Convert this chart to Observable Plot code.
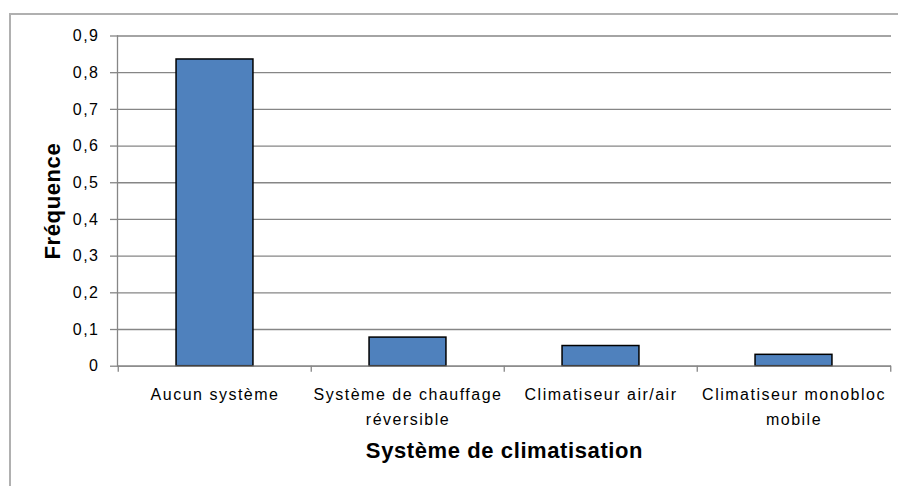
<!DOCTYPE html>
<html>
<head>
<meta charset="utf-8">
<script src="https://cdn.jsdelivr.net/npm/d3@7"></script>
<script src="https://cdn.jsdelivr.net/npm/@observablehq/plot@0.6"></script>
<style>
  html, body { margin: 0; padding: 0; background: #fff; }
  #wrap { position: relative; width: 898px; height: 486px; overflow: hidden; }
  #border { position: absolute; left: 9px; top: 13px; width: 1000px; height: 1000px;
            border-left: 2px solid #b0b0b0; border-top: 2px solid #b0b0b0; box-sizing: border-box; }
  #chart { position: absolute; left: 0; top: 0; }
</style>
</head>
<body>
<div id="wrap"><div id="border"></div><div id="chart"></div></div>
<script>
const categories = ["Aucun système", "Système de chauffage réversible", "Climatiseur air/air", "Climatiseur monobloc mobile"];
const tickLabels = ["Aucun système", "Système de chauffage\nréversible", "Climatiseur air/air", "Climatiseur monobloc\nmobile"];
const frequencies = [0.836, 0.078, 0.055, 0.031];
const yTicks = [0, 0.1, 0.2, 0.3, 0.4, 0.5, 0.6, 0.7, 0.8, 0.9];
const xTitle = "Système de climatisation";
const yTitle = "Fréquence";

const data = categories.map((c, i) => ({category: c, value: frequencies[i]}));
const labelOf = new Map(categories.map((c, i) => [c, tickLabels[i]]));

const W = 898, H = 486;
const mL = 117, mR = 7, mT = 35.5, mB = 120.3;
const step = (W - mL - mR) / categories.length;
const barInset = step * 0.3;
const font = "'Liberation Sans', Arial, sans-serif";
const gray = "#868686";

const chart = Plot.plot({
  width: W,
  height: H,
  marginLeft: mL,
  marginRight: mR,
  marginTop: mT,
  marginBottom: mB,
  style: {fontFamily: font, fontSize: "16px", color: "#000", background: "transparent", overflow: "visible", letterSpacing: "1.5px"},
  x: {domain: categories, padding: 0, axis: null},
  y: {domain: [0, 0.9], axis: null},
  marks: [
    Plot.gridY(yTicks, {stroke: gray, strokeOpacity: 1, strokeWidth: 1.3}),
    Plot.axisY(yTicks, {tickSize: 7, tickPadding: 11, stroke: gray, strokeWidth: 1.3,
      tickFormat: d => String(d).replace(".", ","), label: null, fontSize: 16, fill: "#000"}),
    Plot.frame({anchor: "left", stroke: gray, strokeWidth: 1.3}),
    Plot.barY(data, {x: "category", y: "value", fill: "#4F81BD", stroke: "#000", strokeWidth: 1.5,
      insetLeft: barInset, insetRight: barInset}),
    Plot.ruleY([0], {stroke: gray, strokeWidth: 1.3}),
    Plot.axisX(categories, {tickSize: 6, tickFormat: null, label: null, dx: -step / 2, stroke: gray, strokeWidth: 1.3}),
    Plot.axisX([categories[categories.length - 1]], {tickSize: 6, tickFormat: null, label: null, dx: step / 2, stroke: gray, strokeWidth: 1.3}),
    Plot.axisX(categories, {tickSize: 0, tickPadding: 16, tickFormat: d => labelOf.get(d), label: null,
      fontSize: 16, fill: "#000", lineHeight: 1.56}),
    Plot.text([xTitle], {frameAnchor: "bottom", lineAnchor: "middle", dy: 85, fontSize: 22, fontWeight: "bold", fill: "#000"}),
    Plot.text([yTitle], {frameAnchor: "left", textAnchor: "middle", lineAnchor: "middle", dx: -65, rotate: -90, fontSize: 22, fontWeight: "bold", fill: "#000"})
  ]
});
d3.select(chart).selectAll("text")
  .filter(function() { return this.textContent === xTitle || this.textContent === yTitle; })
  .style("letter-spacing", "0.6px");
document.getElementById("chart").appendChild(chart);
</script>
</body>
</html>
